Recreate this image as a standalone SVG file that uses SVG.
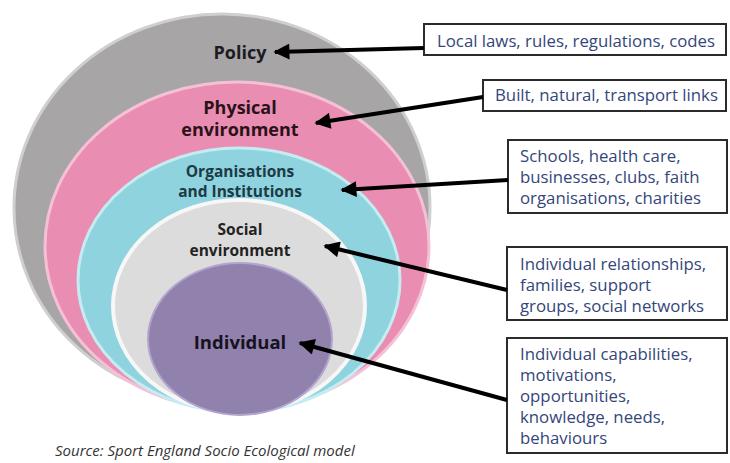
<svg xmlns="http://www.w3.org/2000/svg" width="730" height="463" viewBox="0 0 730 463">
  <defs>
    <marker id="head" viewBox="0 0 10 10" refX="9" refY="5" markerWidth="4.5" markerHeight="4" orient="auto" markerUnits="strokeWidth">
      <path d="M0,0 L10,5 L0,10 z" fill="#000"/>
    </marker>
    <style>
      .lbl { font-family: "Open Sans", "Liberation Sans", sans-serif; font-weight: bold; text-anchor: middle; }
      .box { fill: #fff; stroke: #2b2b2b; stroke-width: 2; }
      .bt { font-family: "Open Sans", "Liberation Sans", sans-serif; font-size: 16.8px; fill: #34467a; }
      .conn { stroke: #000; stroke-width: 4; fill: none; marker-end: url(#head); }
    </style>
  </defs>
  <rect width="730" height="463" fill="#fff"/>

  <!-- nested rings -->
  <g id="policy">
    <ellipse cx="222" cy="208" rx="208" ry="194" fill="#a7a5a5" stroke="#cfcfcf" stroke-width="3"/>
    <text class="lbl" x="240" y="59" font-size="18" fill="#1b1b24">Policy</text>
  </g>
  <g id="physical">
    <ellipse cx="237" cy="246" rx="192" ry="164" fill="#e98eb2" stroke="#f5c0d5" stroke-width="3"/>
    <text class="lbl" x="240" y="114" font-size="18" fill="#2a1218">Physical</text>
    <text class="lbl" x="240" y="136" font-size="18" fill="#2a1218">environment</text>
  </g>
  <g id="organisations">
    <ellipse cx="239" cy="280" rx="161" ry="132" fill="#8fd3de" stroke="#c4ecf1" stroke-width="3"/>
    <text class="lbl" x="240" y="177" font-size="15.5" fill="#1d3a45">Organisations</text>
    <text class="lbl" x="240" y="197" font-size="15.5" fill="#1d3a45">and Institutions</text>
  </g>
  <g id="social">
    <ellipse cx="239" cy="306" rx="126" ry="106" fill="#dcdcdc" stroke="#f7f7f7" stroke-width="4"/>
    <text class="lbl" x="240" y="235" font-size="15.5" fill="#222">Social</text>
    <text class="lbl" x="240" y="256" font-size="15.5" fill="#222">environment</text>
  </g>
  <g id="individual">
    <ellipse cx="240" cy="339" rx="92" ry="76" fill="#9181ad" stroke="#b3a5cf" stroke-width="2"/>
    <text class="lbl" x="240" y="349" font-size="18.5" fill="#16121e">Individual</text>
  </g>

  <!-- description boxes -->
  <g id="box-policy">
    <rect class="box" x="424" y="24" width="302" height="31"/>
    <text class="bt" x="437" y="47">Local laws, rules, regulations, codes</text>
  </g>
  <g id="box-physical">
    <rect class="box" x="483" y="80" width="243" height="31"/>
    <text class="bt" x="495" y="101">Built, natural, transport links</text>
  </g>
  <g id="box-organisations">
    <rect class="box" x="508" y="140" width="219" height="73"/>
    <text class="bt" x="520" y="162">Schools, health care,</text>
    <text class="bt" x="520" y="183">businesses, clubs, faith</text>
    <text class="bt" x="520" y="204">organisations, charities</text>
  </g>
  <g id="box-social">
    <rect class="box" x="507" y="247" width="220" height="73"/>
    <text class="bt" x="520" y="270" font-size="16.3">Individual relationships,</text>
    <text class="bt" x="520" y="291" font-size="16.3">families, support</text>
    <text class="bt" x="520" y="312" font-size="16.3">groups, social networks</text>
  </g>
  <g id="box-individual">
    <rect class="box" x="507" y="338" width="220" height="115"/>
    <text class="bt" x="520" y="360">Individual capabilities,</text>
    <text class="bt" x="520" y="381">motivations,</text>
    <text class="bt" x="520" y="402">opportunities,</text>
    <text class="bt" x="520" y="423">knowledge, needs,</text>
    <text class="bt" x="520" y="444">behaviours</text>
  </g>

  <!-- connectors -->
  <g id="connectors">
    <line class="conn" x1="424" y1="48" x2="275" y2="52"/>
    <line class="conn" x1="483" y1="97" x2="316" y2="123"/>
    <line class="conn" x1="508" y1="180" x2="342" y2="190"/>
    <line class="conn" x1="507" y1="290" x2="325" y2="246"/>
    <line class="conn" x1="507" y1="400" x2="300" y2="343"/>
  </g>

  <text x="55" y="456" font-family="'Open Sans', 'Liberation Sans', sans-serif" font-style="italic" font-size="15" fill="#333">Source: Sport England Socio Ecological model</text>
</svg>
